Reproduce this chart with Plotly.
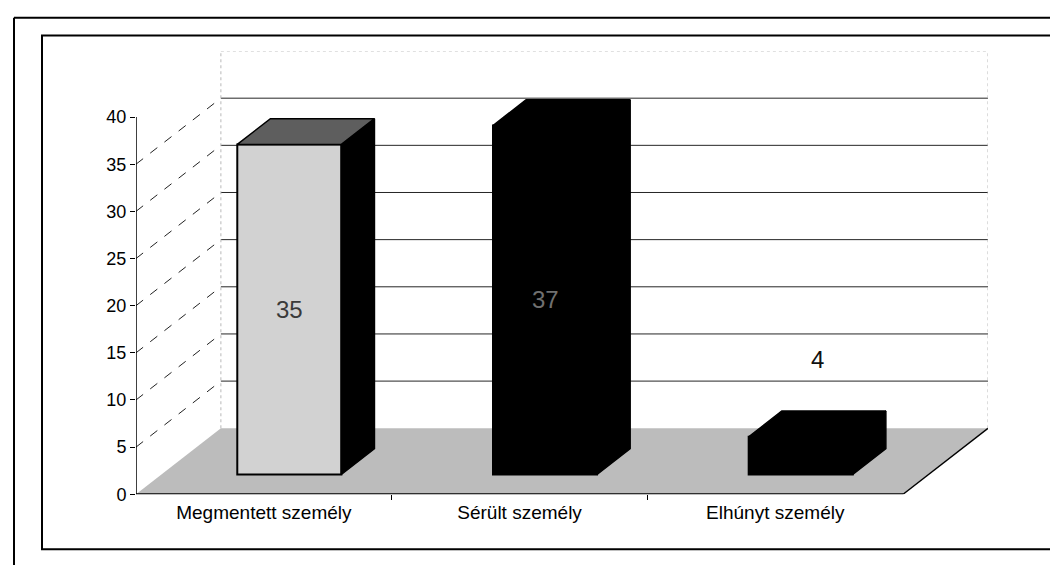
import plotly.graph_objects as go

# ---------------- data ----------------
categories = ["Megmentett személy", "Sérült személy", "Elhúnyt személy"]
values = [35, 37, 4]
y_ticks = [0, 5, 10, 15, 20, 25, 30, 35, 40]
value_labels = ["35", "37", "4"]

# ---------------- geometry / style (pseudo-3D projection) ----------------
W, H = 1058, 567
X_MIN, X_MAX = -0.5, 2.5
Y_TOP = 40
DX, DY = 0.332, 7.0          # full depth of floor, in axis units
F_FRONT, F_DEPTH = 0.30, 0.39
BAR_W = 0.407
fx, fy = DX * F_FRONT, DY * F_FRONT
bx, by = DX * F_DEPTH, DY * F_DEPTH

front_colors = ["#d2d2d2", "#000000", "#000000"]
top_colors = ["#5e5e5e", "#000000", "#000000"]
side_colors = ["#000000", "#000000", "#000000"]
label_colors = ["#3a3a3a", "#707070", "#111111"]
FONT = "Liberation Sans, Arial, sans-serif"

fig = go.Figure()

# front faces of the columns
fig.add_trace(go.Bar(
    x=list(range(len(values))), y=values, base=fy,
    width=BAR_W, offset=-BAR_W / 2 + fx,
    marker=dict(color=front_colors, line=dict(color="black", width=2)),
    hoverinfo="skip", showlegend=False,
))

# side and top faces computed from the values
for i, v in enumerate(values):
    xl = i - BAR_W / 2 + fx
    xr = xl + BAR_W
    y0, y1 = fy, fy + v
    fig.add_trace(go.Scatter(
        x=[xr, xr + bx, xr + bx, xr, xr],
        y=[y0, y0 + by, y1 + by, y1, y0],
        fill="toself", fillcolor=side_colors[i], mode="lines",
        line=dict(color="black", width=1.5), hoverinfo="skip", showlegend=False))
    fig.add_trace(go.Scatter(
        x=[xl, xl + bx, xr + bx, xr, xl],
        y=[y1, y1 + by, y1 + by, y1, y1],
        fill="toself", fillcolor=top_colors[i], mode="lines",
        line=dict(color="black", width=1.5), hoverinfo="skip", showlegend=False))

shapes = []
# back wall gridlines
for v in y_ticks[1:]:
    faint = v == Y_TOP
    shapes.append(dict(type="line", xref="x", yref="y", layer="below",
                       x0=X_MIN + DX, x1=X_MAX + DX, y0=v + DY, y1=v + DY,
                       line=dict(color="#c4c4c4" if faint else "#262626",
                                 width=1, dash="dot" if faint else "solid")))
# side wall diagonals
for v in y_ticks[1:-1]:
    shapes.append(dict(type="line", xref="x", yref="y", layer="below",
                       x0=X_MIN, x1=X_MIN + DX, y0=v, y1=v + DY,
                       line=dict(color="#222222", width=1, dash="dash")))
# back wall vertical edges
for xe in (X_MIN + DX, X_MAX + DX):
    shapes.append(dict(type="line", xref="x", yref="y", layer="below",
                       x0=xe, x1=xe, y0=DY, y1=Y_TOP + DY,
                       line=dict(color="#b8b8b8", width=1, dash="dot")))
# floor
shapes.append(dict(type="path", xref="x", yref="y", layer="below",
                   path=f"M {X_MIN},0 L {X_MAX},0 L {X_MAX + DX},{DY} L {X_MIN + DX},{DY} Z",
                   fillcolor="#bcbcbc", line=dict(width=0)))
shapes.append(dict(type="line", xref="x", yref="y", layer="below",
                   x0=X_MIN, x1=X_MAX, y0=0, y1=0,
                   line=dict(color="black", width=2)))
shapes.append(dict(type="line", xref="x", yref="y", layer="below",
                   x0=X_MAX, x1=X_MAX + DX, y0=0, y1=DY,
                   line=dict(color="black", width=1.5)))
# value axis line (front edge of side wall)
shapes.append(dict(type="line", xref="x", yref="y", layer="below",
                   x0=X_MIN, x1=X_MIN, y0=0, y1=Y_TOP,
                   line=dict(color="black", width=1.5)))
# chart frame and page frame
shapes.append(dict(type="rect", xref="paper", yref="paper",
                   x0=34 / W, x1=1043 / W, y0=1 - 551 / H, y1=1 - 28 / H,
                   line=dict(color="black", width=2)))
shapes.append(dict(type="line", xref="paper", yref="paper",
                   x0=6 / W, x1=1, y0=1 - 10 / H, y1=1 - 10 / H,
                   line=dict(color="black", width=2)))
shapes.append(dict(type="line", xref="paper", yref="paper",
                   x0=6 / W, x1=6 / W, y0=0, y1=1 - 10 / H,
                   line=dict(color="black", width=2)))

annotations = []
for i, v in enumerate(values):
    if v >= 10:
        annotations.append(dict(x=i + fx, y=fy + v / 2, xref="x", yref="y",
                                text=value_labels[i], showarrow=False,
                                font=dict(family=FONT, size=24, color=label_colors[i])))
    else:
        annotations.append(dict(x=i + fx + bx / 2, y=fy + v + by, xref="x", yref="y",
                                yanchor="bottom", yshift=36,
                                text=value_labels[i], showarrow=False,
                                font=dict(family=FONT, size=24, color=label_colors[i])))

y_px0 = 495
y_px_per = 9.6
y_range_top = Y_TOP + DY

fig.update_layout(
    width=W, height=H,
    margin=dict(l=0, r=0, t=0, b=0),
    paper_bgcolor="white", plot_bgcolor="rgba(0,0,0,0)",
    showlegend=False,
    shapes=shapes, annotations=annotations,
    font=dict(family=FONT, color="black"),
    xaxis=dict(
        domain=[128 / W, 980 / W],
        range=[X_MIN, X_MAX + DX],
        tickmode="array", tickvals=list(range(len(categories))), ticktext=categories,
        ticks="", showgrid=False, zeroline=False, showline=False,
        tickfont=dict(family=FONT, size=19, color="black"),
        ticklabelstandoff=5,
        minor=dict(tickvals=[0.5, 1.5], ticks="outside", ticklen=5,
                   tickcolor="black", showgrid=False),
        fixedrange=True,
    ),
    yaxis=dict(
        domain=[(H - y_px0) / H, (H - (y_px0 - y_range_top * y_px_per)) / H],
        range=[0, y_range_top],
        tickmode="array", tickvals=y_ticks,
        ticks="outside", ticklen=5, tickcolor="black", tickwidth=1,
        showgrid=False, zeroline=False, showline=False,
        tickfont=dict(family=FONT, size=18, color="black"),
        fixedrange=True,
    ),
)

fig.write_html("out.html")
